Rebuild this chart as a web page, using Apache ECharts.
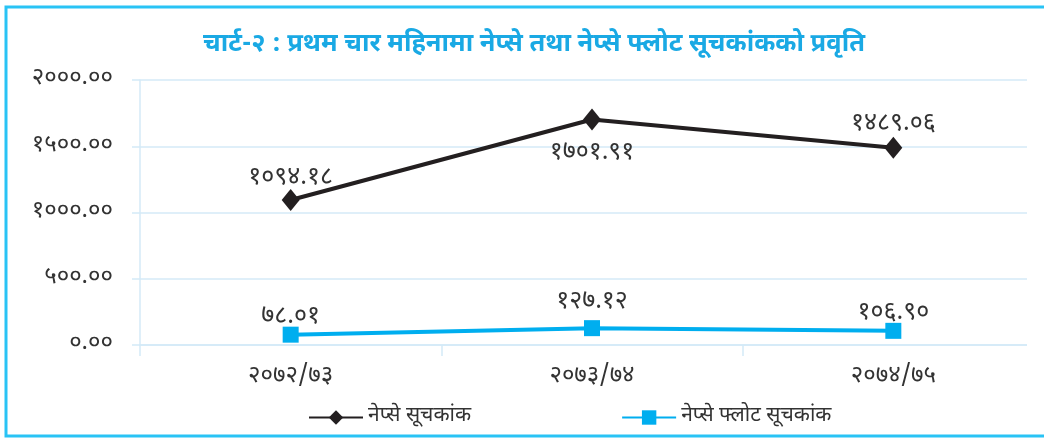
<!DOCTYPE html>
<html>
<head>
<meta charset="utf-8">
<script src="https://cdn.jsdelivr.net/npm/echarts@6/dist/echarts.min.js"></script>
<style>
  html, body { margin: 0; padding: 0; background: #fff; }
  #chart { width: 1044px; height: 441px; }
</style>
</head>
<body>
<div id="chart"></div>
<script>
// data
const categories = ['२०७२/७३', '२०७३/७४', '२०७४/७५']
const nepseIndex = [1094.18, 1701.91, 1489.06]
const floatIndex = [78.01, 127.12, 106.90]
const seriesNames = ['नेप्से सूचकांक', 'नेप्से फ्लोट सूचकांक']
const titleText = 'चार्ट-२ : प्रथम चार महिनामा नेप्से तथा नेप्से फ्लोट सूचकांकको प्रवृति'

const FONT = '"Noto Sans Devanagari", "Noto Sans", sans-serif'
const CYAN = '#00aeef'
const GRIDC = '#d4eaf7'

// label placement per point (the original places them by hand)
const nepseLabelPos = [['top', -3], ['bottom', 11], ['top', -1]]
const floatLabelPos = [['top', -4], ['top', 4], ['top', -4]]

// latin digits -> devanagari digits
function dev(str) {
  return String(str).replace(/[0-9]/g, d => String.fromCharCode(0x0966 + Number(d)))
}

const chart = echarts.init(document.getElementById('chart'))

const labelStyle = {
  show: true,
  fontFamily: FONT,
  fontSize: 25,
  color: '#333',
  formatter: p => dev(p.value.toFixed(2))
}

chart.setOption({
  animation: false,
  title: {
    text: titleText,
    left: 198,
    top: 28,
    textStyle: { fontFamily: FONT, fontSize: 25.5, fontWeight: 'bold', color: '#1aa9e4' }
  },
  legend: {
    left: 303,
    top: 402,
    itemWidth: 54,
    itemHeight: 18,
    itemGap: 150,
    textStyle: { fontFamily: FONT, fontSize: 21, color: '#333' },
    data: seriesNames
  },
  grid: { left: 140, width: 911, top: 80, bottom: 96 },
  xAxis: {
    type: 'category',
    data: categories,
    boundaryGap: true,
    axisLine: { lineStyle: { color: GRIDC, width: 1.5 } },
    axisTick: { show: true, length: 11, lineStyle: { color: GRIDC, width: 1.5 } },
    axisLabel: { margin: 21, fontFamily: FONT, fontSize: 24, color: '#333' }
  },
  yAxis: {
    type: 'value',
    min: 0,
    max: 2000,
    interval: 500,
    axisLine: { show: true, lineStyle: { color: GRIDC, width: 1.5 } },
    axisTick: { show: true, length: 8, lineStyle: { color: GRIDC, width: 1.5 } },
    splitLine: { lineStyle: { color: GRIDC, width: 1.5 } },
    axisLabel: {
      margin: 27,
      fontFamily: FONT,
      fontSize: 24,
      color: '#333',
      formatter: v => dev(v.toFixed(2))
    }
  },
  series: [
    {
      name: seriesNames[0],
      type: 'line',
      symbol: 'diamond',
      symbolSize: [18, 22],
      color: '#231f20',
      lineStyle: { width: 4, color: '#231f20' },
      data: nepseIndex.map((v, i) => ({
        value: v,
        label: { position: nepseLabelPos[i][0], distance: nepseLabelPos[i][1] }
      })),
      label: labelStyle,
      z: 3
    },
    {
      name: seriesNames[1],
      type: 'line',
      symbol: 'rect',
      symbolSize: 16,
      color: CYAN,
      lineStyle: { width: 4, color: CYAN },
      data: floatIndex.map((v, i) => ({
        value: v,
        label: { position: floatLabelPos[i][0], distance: floatLabelPos[i][1] }
      })),
      label: labelStyle,
      z: 3
    }
  ],
  graphic: [
    // hide the last part of the plot so the grid stops where the original does
    {
      type: 'rect',
      z: 100,
      shape: { x: 1027, y: 60, width: 30, height: 310 },
      style: { fill: '#fff' }
    },
    {
      type: 'rect',
      z: 101,
      shape: { x: 6, y: 7, width: 1060, height: 429 },
      style: { fill: 'none', stroke: '#29c3f5', lineWidth: 3 }
    }
  ]
})
</script>
</body>
</html>
